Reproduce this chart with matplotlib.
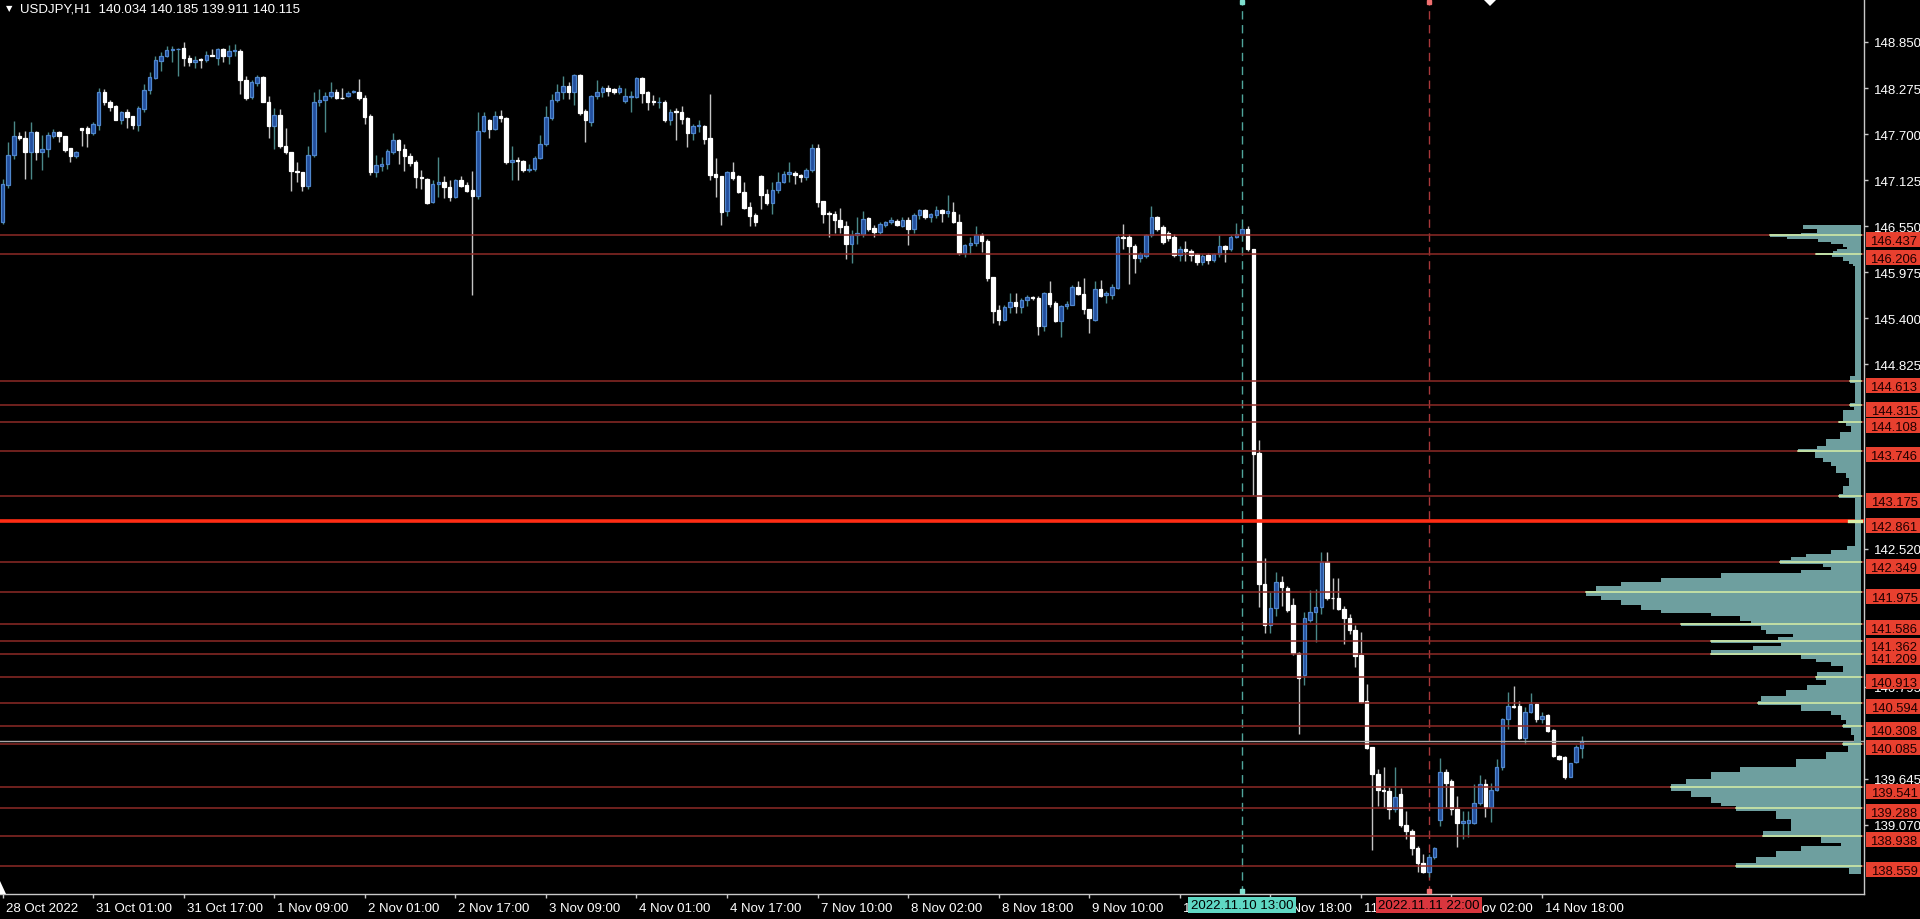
import numpy as np
import matplotlib
matplotlib.use('Agg')
import matplotlib.pyplot as plt
from matplotlib.transforms import blended_transform_factory, ScaledTranslation
from matplotlib.patches import Polygon, Rectangle

plt.rcParams['font.family'] = ['Liberation Sans', 'DejaVu Sans']

#---------------------------------------------------------------------------
# USDJPY H1 candles (bar 0 = 28 Oct 09:00)
o = [146.60, 147.06, 147.44, 147.68, 147.65, 147.48, 147.72, 147.48, 147.51, 147.68,
     147.72, 147.67, 147.52, 147.42, 147.78, 147.77, 147.71, 147.81, 148.23, 148.10,
     148.05, 147.88, 147.97, 147.92, 147.81, 148.01, 148.25, 148.40, 148.61, 148.68,
     148.745, 148.76, 148.77, 148.65, 148.60, 148.64, 148.625, 148.69, 148.65, 148.76,
     148.68, 148.74, 148.74, 148.375, 148.16, 148.34, 148.41, 148.10, 147.80, 147.94,
     147.55, 147.47, 147.24, 147.22, 147.055, 147.44, 148.10, 148.12, 148.18, 148.23,
     148.155, 148.17, 148.23, 148.23, 148.15, 147.92, 147.22, 147.305, 147.32, 147.47,
     147.625, 147.51, 147.43, 147.35, 147.16, 147.14, 146.85, 147.08, 147.10, 147.04,
     146.91, 147.12, 147.06, 147.00, 146.93, 147.74, 147.87, 147.76, 147.92, 147.90,
     147.35, 147.38, 147.36, 147.255, 147.26, 147.40, 147.57, 147.90, 148.12, 148.23,
     148.30, 148.23, 148.44, 147.99, 147.855, 148.17, 148.23, 148.28, 148.26, 148.23,
     148.11, 148.165, 148.16, 148.40, 148.22, 148.11, 148.10, 148.105, 147.87, 147.99,
     147.98, 147.90, 147.71, 147.80, 147.80, 147.65, 147.20, 147.17, 146.735, 147.22,
     147.17, 146.98, 146.785, 146.69, 147.18, 146.95, 146.84, 147.00, 147.105, 147.20,
     147.21, 147.19, 147.16, 147.255, 147.52, 146.86, 146.71, 146.70, 146.63, 146.55,
     146.33, 146.44, 146.45, 146.65, 146.525, 146.48, 146.57, 146.60, 146.61, 146.555,
     146.63, 146.515, 146.69, 146.75, 146.66, 146.69, 146.755, 146.72, 146.73, 146.605,
     146.215, 146.32, 146.34, 146.44, 146.37, 145.91, 145.50, 145.38, 145.535, 145.60,
     145.545, 145.63, 145.66, 145.65, 145.30, 145.715, 145.59, 145.36, 145.55, 145.57,
     145.785, 145.70, 145.515, 145.38, 145.77, 145.69, 145.69, 145.78, 146.42, 146.41,
     146.305, 146.15, 146.18, 146.44, 146.66, 146.535, 146.47, 146.41, 146.19, 146.27,
     146.24, 146.20, 146.10, 146.19, 146.125, 146.20, 146.30, 146.26, 146.42, 146.45,
     146.52, 146.26, 143.72, 142.08, 141.57, 141.78, 142.11, 142.03, 141.82, 141.22,
     140.94, 141.63, 141.73, 141.79, 142.35, 141.91, 141.91, 141.77, 141.66, 141.50,
     141.19, 140.62, 140.04, 139.71, 139.51, 139.50, 139.27, 139.46, 139.07, 139.00,
     138.78, 138.60, 138.48, 138.665, 139.135, 139.73, 139.62, 139.27, 139.09, 139.10,
     139.10, 139.35, 139.58, 139.29, 139.51, 139.79, 140.39, 140.55, 140.56, 140.16,
     140.48, 140.58, 140.40, 140.44, 140.255, 139.93, 139.92, 139.675, 139.86, 140.034]

h = [147.14, 147.60, 147.86, 147.72, 147.74, 147.85, 147.74, 147.69, 147.72, 147.76,
     147.74, 147.68, 147.53, 147.49, 147.78, 147.80, 147.85, 148.28, 148.26, 148.12,
     148.06, 147.99, 148.01, 147.93, 148.05, 148.32, 148.47, 148.68, 148.72, 148.80,
     148.80, 148.78, 148.85, 148.69, 148.68, 148.65, 148.74, 148.76, 148.78, 148.78,
     148.81, 148.825, 148.76, 148.43, 148.38, 148.44, 148.43, 148.18, 148.03, 148.01,
     147.78, 147.48, 147.35, 147.23, 147.555, 148.22, 148.26, 148.23, 148.35, 148.26,
     148.27, 148.24, 148.25, 148.39, 148.19, 147.95, 147.44, 147.41, 147.51, 147.71,
     147.64, 147.58, 147.46, 147.37, 147.25, 147.15, 147.12, 147.41, 147.17, 147.12,
     147.14, 147.18, 147.10, 147.24, 147.97, 147.97, 147.89, 147.99, 148.005, 147.91,
     147.55, 147.41, 147.375, 147.33, 147.42, 147.69, 148.055, 148.20, 148.325, 148.42,
     148.355, 148.45, 148.45, 148.01, 148.19, 148.37, 148.30, 148.31, 148.27, 148.31,
     148.27, 148.24, 148.41, 148.41, 148.24, 148.19, 148.16, 148.12, 148.01, 148.03,
     148.05, 147.91, 147.83, 147.88, 147.81, 148.20, 147.40, 147.18, 147.24, 147.35,
     147.19, 147.10, 146.855, 146.72, 147.19, 147.01, 147.10, 147.22, 147.24, 147.35,
     147.24, 147.20, 147.28, 147.575, 147.575, 146.87, 146.74, 146.74, 146.78, 146.61,
     146.50, 146.66, 146.74, 146.66, 146.56, 146.60, 146.62, 146.66, 146.64, 146.66,
     146.66, 146.72, 146.77, 146.76, 146.72, 146.80, 146.77, 146.94, 146.85, 146.70,
     146.33, 146.42, 146.55, 146.47, 146.39, 145.92, 145.57, 145.56, 145.72, 145.72,
     145.65, 145.69, 145.68, 145.68, 145.73, 145.87, 145.62, 145.56, 145.62, 145.81,
     145.87, 145.90, 145.52, 145.86, 145.88, 145.74, 145.83, 146.45, 146.58, 146.45,
     146.33, 146.23, 146.45, 146.80, 146.68, 146.56, 146.49, 146.45, 146.305, 146.37,
     146.264, 146.22, 146.20, 146.22, 146.22, 146.44, 146.31, 146.44, 146.59, 146.55,
     146.55, 146.27, 143.88, 142.40, 141.98, 142.23, 142.18, 142.05, 141.91, 141.23,
     141.73, 142.01, 142.02, 142.48, 142.48, 142.16, 142.15, 141.81, 141.70, 141.57,
     141.48, 140.83, 140.04, 139.77, 139.79, 139.55, 139.79, 139.53, 139.25, 139.02,
     138.81, 138.71, 138.71, 138.80, 139.91, 139.77, 139.64, 139.43, 139.25, 139.24,
     139.58, 139.69, 139.65, 139.60, 139.89, 140.41, 140.73, 140.80, 140.62, 140.54,
     140.72, 140.59, 140.48, 140.456, 140.27, 139.94, 139.935, 139.85, 140.07, 140.185]

l = [146.58, 147.03, 147.39, 147.62, 147.14, 147.14, 147.37, 147.25, 147.41, 147.65,
     147.60, 147.48, 147.35, 147.40, 147.55, 147.54, 147.69, 147.75, 148.06, 147.99,
     147.87, 147.83, 147.78, 147.76, 147.74, 147.97, 148.20, 148.39, 148.49, 148.66,
     148.60, 148.43, 148.55, 148.55, 148.53, 148.53, 148.60, 148.68, 148.56, 148.60,
     148.575, 148.68, 148.20, 148.125, 148.14, 148.30, 148.096, 147.65, 147.51, 147.53,
     147.45, 146.99, 147.10, 146.99, 147.01, 147.41, 148.05, 147.73, 148.15, 148.14,
     148.14, 148.16, 148.21, 148.13, 147.825, 147.19, 147.16, 147.24, 147.26, 147.45,
     147.33, 147.24, 147.30, 147.03, 147.02, 146.83, 146.84, 146.91, 146.90, 146.86,
     146.90, 147.04, 146.98, 145.69, 146.89, 147.72, 147.65, 147.75, 147.85, 147.33,
     147.12, 147.13, 147.23, 147.22, 147.24, 147.39, 147.555, 147.87, 148.10, 148.14,
     148.14, 148.06, 147.94, 147.605, 147.80, 148.14, 148.16, 148.17, 148.20, 148.20,
     148.09, 147.98, 148.15, 148.09, 148.005, 148.06, 148.03, 147.85, 147.81, 147.63,
     147.83, 147.54, 147.62, 147.72, 147.576, 147.13, 146.92, 146.56, 146.68, 147.12,
     146.97, 146.76, 146.556, 146.556, 146.76, 146.81, 146.70, 146.97, 147.085, 147.10,
     147.08, 147.10, 147.13, 147.23, 146.785, 146.59, 146.42, 146.47, 146.47, 146.14,
     146.09, 146.33, 146.42, 146.49, 146.42, 146.45, 146.535, 146.58, 146.55, 146.535,
     146.31, 146.47, 146.64, 146.64, 146.605, 146.65, 146.605, 146.66, 146.59, 146.19,
     146.16, 146.20, 146.30, 146.23, 145.87, 145.34, 145.31, 145.36, 145.47, 145.47,
     145.47, 145.555, 145.63, 145.19, 145.24, 145.54, 145.35, 145.17, 145.52, 145.56,
     145.69, 145.45, 145.21, 145.37, 145.66, 145.59, 145.64, 145.765, 146.26, 145.83,
     145.96, 146.10, 146.15, 146.42, 146.49, 146.33, 146.37, 146.16, 146.12, 146.12,
     146.12, 146.065, 146.065, 146.08, 146.10, 146.17, 146.10, 146.24, 146.40, 146.43,
     146.24, 143.19, 141.79, 141.47, 141.47, 141.68, 141.81, 141.73, 141.19, 140.21,
     140.82, 141.60, 141.36, 141.71, 141.88, 141.77, 141.76, 141.33, 141.455, 141.04,
     140.59, 140.02, 138.76, 139.31, 139.29, 139.15, 139.23, 139.04, 138.89, 138.695,
     138.48, 138.47, 138.42, 138.64, 139.06, 139.30, 139.19, 138.80, 138.90, 138.92,
     139.08, 139.32, 139.17, 139.11, 139.49, 139.76, 140.27, 140.53, 140.15, 140.08,
     140.47, 140.36, 140.35, 140.23, 139.92, 139.885, 139.645, 139.665, 139.85, 139.911]

c = [147.08, 147.44, 147.67, 147.65, 147.48, 147.72, 147.48, 147.51, 147.69, 147.72,
     147.67, 147.50, 147.42, 147.48, 147.75, 147.71, 147.83, 148.23, 148.10, 148.04,
     147.88, 147.97, 147.91, 147.81, 148.02, 148.25, 148.41, 148.62, 148.68, 148.75,
     148.76, 148.765, 148.65, 148.60, 148.63, 148.625, 148.69, 148.68, 148.76, 148.68,
     148.74, 148.745, 148.375, 148.15, 148.35, 148.41, 148.105, 147.80, 147.94, 147.55,
     147.47, 147.24, 147.22, 147.055, 147.44, 148.10, 148.125, 148.18, 148.23, 148.15,
     148.15, 148.21, 148.235, 148.15, 147.91, 147.22, 147.31, 147.325, 147.49, 147.625,
     147.505, 147.42, 147.34, 147.16, 147.15, 146.84, 147.08, 147.10, 147.035, 146.91,
     147.13, 147.055, 146.99, 146.93, 147.74, 147.92, 147.76, 147.93, 147.90, 147.35,
     147.37, 147.365, 147.255, 147.26, 147.40, 147.57, 147.91, 148.13, 148.23, 148.30,
     148.23, 148.44, 147.96, 147.87, 148.18, 148.23, 148.28, 148.235, 148.23, 148.275,
     148.17, 148.17, 148.40, 148.21, 148.10, 148.10, 148.105, 147.87, 147.98, 147.97,
     147.89, 147.71, 147.80, 147.81, 147.64, 147.19, 147.16, 146.73, 147.22, 147.15,
     146.98, 146.78, 146.68, 146.605, 146.94, 146.84, 147.005, 147.10, 147.20, 147.22,
     147.19, 147.16, 147.255, 147.52, 146.85, 146.70, 146.70, 146.63, 146.535, 146.33,
     146.44, 146.46, 146.64, 146.515, 146.48, 146.58, 146.60, 146.625, 146.565, 146.63,
     146.515, 146.69, 146.75, 146.66, 146.70, 146.755, 146.715, 146.735, 146.605, 146.215,
     146.32, 146.34, 146.44, 146.37, 145.90, 145.49, 145.38, 145.535, 145.60, 145.55,
     145.63, 145.66, 145.655, 145.30, 145.715, 145.58, 145.36, 145.55, 145.577, 145.785,
     145.70, 145.515, 145.40, 145.77, 145.68, 145.71, 145.79, 146.42, 146.40, 146.30,
     146.15, 146.20, 146.44, 146.66, 146.52, 146.348, 146.40, 146.19, 146.27, 146.24,
     146.19, 146.10, 146.18, 146.125, 146.20, 146.30, 146.26, 146.42, 146.45, 146.52,
     146.26, 143.70, 142.08, 141.57, 141.78, 142.11, 142.04, 141.75, 141.22, 140.90,
     141.66, 141.73, 141.79, 142.35, 141.90, 141.90, 141.77, 141.66, 141.50, 141.185,
     140.61, 140.03, 139.71, 139.51, 139.49, 139.27, 139.415, 139.07, 139.00, 138.78,
     138.595, 138.48, 138.665, 138.78, 139.73, 139.60, 139.27, 139.09, 139.12, 139.135,
     139.35, 139.58, 139.29, 139.51, 139.79, 140.39, 140.55, 140.54, 140.16, 140.48,
     140.58, 140.40, 140.435, 140.25, 139.93, 139.90, 139.665, 139.84, 140.05, 140.115]

# time axis
tick_bars = [0, 16, 32, 48, 64, 80, 96, 112, 128, 144, 160, 176, 192, 208, 224, 240, 256, 272]
tick_text = ['28 Oct 2022', '31 Oct 01:00', '31 Oct 17:00', '1 Nov 09:00', '2 Nov 01:00',
             '2 Nov 17:00', '3 Nov 09:00', '4 Nov 01:00', '4 Nov 17:00', '7 Nov 10:00',
             '8 Nov 02:00', '8 Nov 18:00', '9 Nov 10:00', '10 Nov 02:00', '10 Nov 18:00',
             '11 Nov 10:00', '14 Nov 02:00', '14 Nov 18:00']

# price axis (only the grid values not hidden behind level labels)
price_ticks = [148.850, 148.275, 147.700, 147.125, 146.550, 145.975, 145.400, 144.825,
               142.520, 140.795, 139.645, 139.070]

# horizontal levels
levels = [146.437, 146.206, 144.613, 144.315, 144.108, 143.746, 143.175, 142.861,
          142.349, 141.975, 141.586, 141.362, 141.209, 140.913, 140.594, 140.308,
          140.085, 139.541, 139.288, 138.938, 138.559]
key_level = 142.861
bid = 140.115

# vertical markers
vline_cyan = (219, '2022.11.10 13:00')
vline_red = (252, '2022.11.11 22:00')

# volume profile: segment tops (last entry = bottom of profile) and volume per segment
prof_top = [146.565, 146.51, 146.47, 146.45, 146.42, 146.39, 146.35, 146.33, 146.29, 146.27,
            146.24, 146.22, 146.195, 146.16, 146.12, 146.08, 146.05, 144.68, 144.59, 144.34,
            144.29, 144.25, 144.12, 144.09, 144.05, 143.98, 143.89, 143.80, 143.77, 143.73,
            143.66, 143.60, 143.55, 143.47, 143.40, 143.31, 143.20, 143.16, 142.88, 142.84,
            142.55, 142.51, 142.46, 142.42, 142.38, 142.33, 142.29, 142.25, 142.22, 142.15,
            142.10, 142.05, 141.99, 141.93, 141.88, 141.82, 141.76, 141.72, 141.68, 141.62,
            141.59, 141.56, 141.50, 141.45, 141.42, 141.38, 141.34, 141.30, 141.25, 141.19,
            141.14, 141.10, 141.06, 140.98, 140.93, 140.88, 140.82, 140.75, 140.68, 140.62,
            140.57, 140.50, 140.45, 140.38, 140.33, 140.28, 140.19, 140.11, 140.06, 139.98,
            139.90, 139.79, 139.73, 139.65, 139.58, 139.50, 139.42, 139.35, 139.31, 139.25,
            139.15, 139.00, 138.92, 138.85, 138.81, 138.74, 138.67, 138.60, 138.53, 138.46]
prof_vol = [58, 44, 60, 91, 74, 43, 30, 18, 14, 24,
            28, 45, 29, 18, 12, 8, 6, 11, 6, 11,
            7, 18, 22, 15, 10, 21, 35, 44, 63, 46,
            38, 30, 25, 15, 12, 18, 22, 6, 12, 6,
            14, 30, 55, 70, 81, 38, 30, 60, 140, 200,
            240, 265, 275, 260, 240, 220, 200, 150, 121, 110,
            180, 100, 95, 68, 83, 150, 80, 108, 150, 60,
            45, 30, 18, 44, 45, 35, 54, 75, 100, 103,
            60, 30, 20, 15, 18, 10, 7, 18, 13, 35,
            65, 121, 150, 175, 190, 170, 150, 140, 125, 85,
            70, 98, 40, 20, 60, 85, 105, 125, 12]

#---------------------------------------------------------------------------
BG = '#000000'
BULL_FACE, BULL_EDGE, BULL_WICK = '#234f9e', '#4f86cc', '#4a8888'
BEAR_FACE, BEAR_WICK = '#ffffff', '#c4c4c4'
LEVEL_RED = '#8e2b27'
PROFILE = '#6e9f9f'
PROF_LINE = '#d9efa6'
LABEL_RED = '#e8402f'

PX_BAR = 5.66          # pixels per bar
X_OFF = 2.5            # pixel of bar 0
AX_W, AX_H = 1864, 895
Y_LO, Y_HI = 138.208, 149.387

fig = plt.figure(figsize=(19.2, 9.2), dpi=100, facecolor=BG)
ax = fig.add_axes([0, (920 - AX_H) / 920, AX_W / 1920, AX_H / 920])
ax.set_facecolor(BG)
ax.set_xlim(-X_OFF / PX_BAR, (AX_W - X_OFF) / PX_BAR)
ax.set_ylim(Y_LO, Y_HI)
ppy = AX_H / (Y_HI - Y_LO)      # pixels per yen

o, h, l, c = map(np.array, (o, h, l, c))
idx = np.arange(len(c))
bull = c >= o

# levels
for lv in levels:
    if lv == key_level:
        ax.axhline(lv, color='#ff2d14', lw=2.6, zorder=5)
    else:
        ax.axhline(lv, color=LEVEL_RED, lw=1.1, zorder=5)
ax.axhline(bid, color='#a8a8a8', lw=1.0, zorder=5)

# vertical dashed lines
ax.axvline(vline_cyan[0], color='#4fa59b', lw=1, ls=(0, (6, 4)), zorder=2)
ax.axvline(vline_red[0], color='#a8383a', lw=1, ls=(0, (6, 4)), zorder=2)
blend_xa = blended_transform_factory(ax.transData, ax.transAxes)
for xv, col in [(vline_cyan[0], '#7fe0d0'), (vline_red[0], '#f07070')]:
    ax.plot([xv, xv], [0.997, 0.003], ls='none', marker='s', ms=3.5, color=col,
            transform=blend_xa, clip_on=False, zorder=6)

# candles
ax.vlines(idx[bull], l[bull], h[bull], color=BULL_WICK, lw=1, zorder=3)
ax.vlines(idx[~bull], l[~bull], h[~bull], color=BEAR_WICK, lw=1, zorder=3)
body_lo = np.minimum(o, c)
body_h = np.maximum(np.abs(c - o), 0.006)
ax.bar(idx[bull], body_h[bull], bottom=body_lo[bull], width=0.62,
       color=BULL_FACE, edgecolor=BULL_EDGE, linewidth=0.9, zorder=4)
ax.bar(idx[~bull], body_h[~bull], bottom=body_lo[~bull], width=0.62,
       color=BEAR_FACE, edgecolor=BEAR_FACE, linewidth=0.9, zorder=4)

# volume profile, anchored to the right edge
x_right = (1861 - X_OFF) / PX_BAR
n = min(len(prof_vol), len(prof_top) - 1)
tops = np.array(prof_top[:n])
bots = np.array(prof_top[1:n + 1])
wid = np.array(prof_vol[:n]) / PX_BAR
ax.barh((tops + bots) / 2, wid, height=tops - bots, left=x_right - wid,
        color=PROFILE, edgecolor='none', zorder=6)
for lv in levels:
    k = np.where((tops >= lv) & (bots < lv))[0]
    if len(k):
        w = wid[k[0]]
        ax.plot([x_right - w, x_right], [lv, lv], color=PROF_LINE,
                lw=2.4 if lv == key_level else 1.1, zorder=7)

# axes frame
for s in ['top', 'left']:
    ax.spines[s].set_visible(False)
for s in ['right', 'bottom']:
    ax.spines[s].set_color('#c8c8c8')
    ax.spines[s].set_linewidth(1)

ax.yaxis.tick_right()
ax.set_yticks(price_ticks)
ax.set_yticklabels([f'{p:.3f}' for p in price_ticks])
ax.tick_params(axis='y', colors='#c8c8c8', labelcolor='white', length=3, width=1,
               pad=4, labelsize=9.5)

ax.set_xticks(tick_bars)
ax.set_xticklabels(tick_text)
ax.tick_params(axis='x', colors='#c8c8c8', labelcolor='white', length=3, width=1,
               pad=3, labelsize=9.5)
shift = ScaledTranslation(3 / 100, 0, fig.dpi_scale_trans)
for lab in ax.get_xticklabels():
    lab.set_horizontalalignment('left')
    lab.set_transform(lab.get_transform() + shift)

# level labels on the price axis: boxes first, texts on top of all boxes
# (the terminal draws them a few pixels below their line)
blend_ay = blended_transform_factory(ax.transAxes, ax.transData)
box_h = 15 / ppy
drop = 4 / ppy
for lv in levels:
    ax.add_patch(Rectangle((1 + 2 / AX_W, lv - drop - box_h / 2), 56 / AX_W, box_h,
                           transform=blend_ay, fc=LABEL_RED, ec='none',
                           clip_on=False, zorder=9))
for lv in levels:
    ax.text(1 + 30 / AX_W, lv - drop, f'{lv:.3f}', transform=blend_ay, ha='center',
            va='center_baseline', color='#200000', fontsize=9.4, clip_on=False, zorder=10)

# date labels of the vertical lines
for (xv, txt), col in [(vline_cyan, '#5fd8c4'), (vline_red, '#d9363e')]:
    ax.annotate(txt, xy=(xv, 0), xycoords=blend_xa, xytext=(0, -11),
                textcoords='offset pixels', ha='center', va='center', color='black',
                fontsize=9.5, zorder=10, annotation_clip=False,
                bbox=dict(boxstyle='square,pad=0.18', fc=col, ec='none'))

# header
fig.text(6 / 1920, 1 - 9 / 920, '\u25bc', color='white', fontsize=6,
         family='DejaVu Sans', va='center', ha='left')
fig.text(20 / 1920, 1 - 9 / 920, 'USDJPY,H1  140.034 140.185 139.911 140.115',
         color='white', fontsize=9.5, va='center', ha='left')

# chart shift markers
fig.patches.append(Polygon([[1483 / 1920, 1.0], [1497 / 1920, 1.0], [1490 / 1920, 1 - 7 / 920]],
                           closed=True, transform=fig.transFigure, fc='white', ec='none'))
fig.patches.append(Polygon([[0, (920 - 895) / 920], [6 / 1920, (920 - 895) / 920], [0, (920 - 882) / 920]],
                           closed=True, transform=fig.transFigure, fc='white', ec='none'))

fig.savefig('out.png', dpi=100, facecolor=BG)
